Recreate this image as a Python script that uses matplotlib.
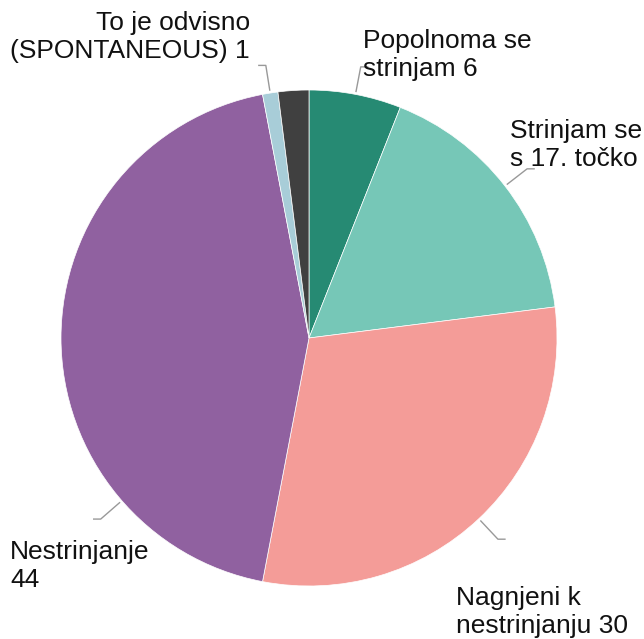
import numpy as np
import matplotlib
matplotlib.use("Agg")
import matplotlib.pyplot as plt

plt.rcParams['font.family'] = ['Liberation Sans', 'DejaVu Sans']

# data
labels = ["Popolnoma se\nstrinjam 6", "Strinjam se\ns 17. točko", "Nagnjeni k\nnestrinjanju 30",
          "Nestrinjanje\n44", "To je odvisno\n(SPONTANEOUS) 1", ""]
values = [6, 17, 30, 44, 1, 2]
colors = ["#268a73", "#76c7b7", "#f49c98", "#9061a0", "#a8cdd8", "#404040"]

# layout (pixel coords, y from top)
W, H = 644, 639
cx, cy, R = 309, 301, 248
text_pos = [(363, 55, 'left'), (510, 145, 'left'), (456, 612, 'left'),
            (10, 566, 'left'), (250, 37, 'right'), None]
lead_angle = [None, None, None, 221, None, None]

fig = plt.figure(figsize=(W / 100, H / 100), dpi=100)
ax = fig.add_axes([0, 0, 1, 1])

wedges, _ = ax.pie(values, colors=colors, startangle=90, counterclock=False,
                   center=(cx, cy), radius=R, frame=True,
                   wedgeprops=dict(edgecolor='white', linewidth=0.5))
ax.set_xlim(0, W)
ax.set_ylim(0, H)
ax.set_aspect('equal')
ax.axis('off')

for i, w in enumerate(wedges):
    if not labels[i]:
        continue
    ang = lead_angle[i] if lead_angle[i] is not None else (w.theta1 + w.theta2) / 2
    a = np.deg2rad(ang)
    x0, y0 = cx + (R + 3) * np.cos(a), cy + (R + 3) * np.sin(a)
    x1, y1 = cx + (R + 28) * np.cos(a), cy + (R + 28) * np.sin(a)
    x2 = x1 + 7 * np.sign(np.cos(a))
    ax.plot([x0, x1, x2], [y0, y1, y1], color='#999999', lw=1)
    tx, ty, ha = text_pos[i]
    ax.text(tx, H - ty, labels[i], ha=ha, va='center', multialignment=ha,
            fontsize=19, linespacing=1.25, color='#111111')

fig.savefig("out.png", dpi=100)
